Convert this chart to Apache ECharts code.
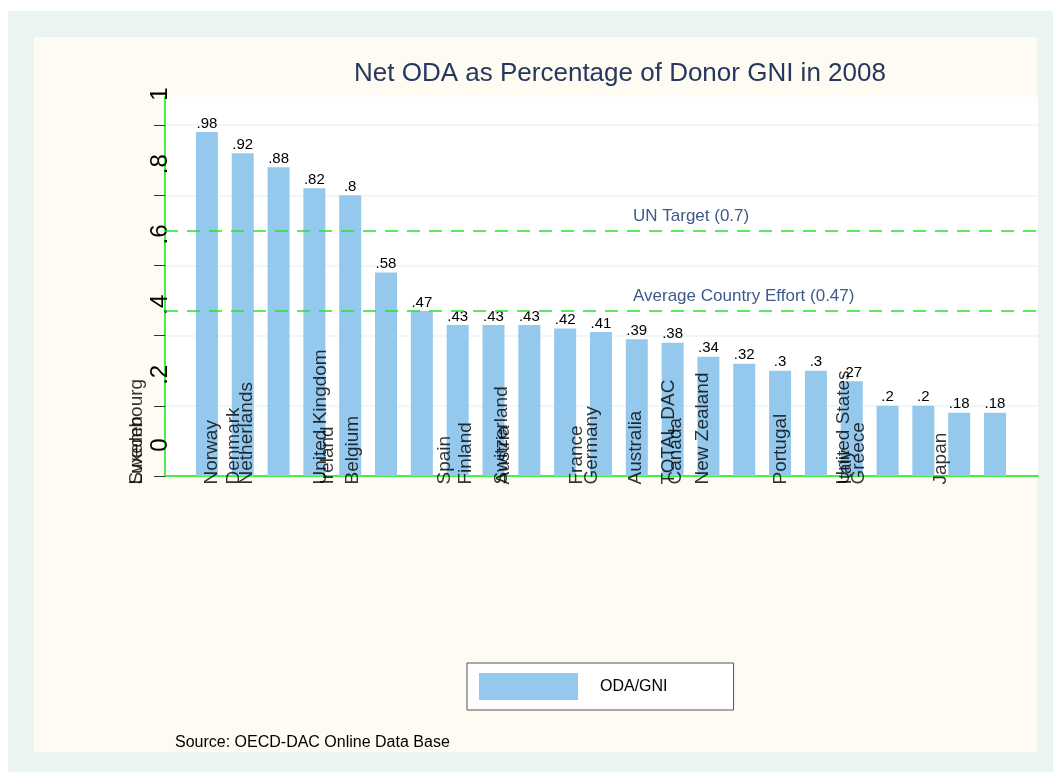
<!DOCTYPE html>
<html>
<head>
<meta charset="utf-8">
<script src="https://cdn.jsdelivr.net/npm/echarts@6/dist/echarts.min.js"></script>
<style>
  html, body { margin: 0; padding: 0; background: #fff; }
  #chart { width: 1053px; height: 772px; }
</style>
</head>
<body>
<div id="chart"></div>
<script>
// bar heights, left to right
const odaValues = [0.98, 0.92, 0.88, 0.82, 0.8, 0.58, 0.47, 0.43, 0.43, 0.43, 0.42, 0.41,
    0.39, 0.38, 0.34, 0.32, 0.3, 0.3, 0.27, 0.2, 0.2, 0.18, 0.18];
// country labels and where they sit (in bar-index units)
const labelNames = ["Sweden", "Luxembourg", "Norway", "Denmark", "Netherlands", "United Kingdom",
    "Ireland", "Belgium", "Spain", "Finland", "Switzerland", "Austria", "France", "Germany",
    "Australia", "TOTAL DAC", "Canada", "New Zealand", "Portugal", "United States", "Italy",
    "Greece", "Japan"];
const labelPos = [-1.95, -1.95, 0.14, 0.75, 1.12, 3.2, 3.4, 4.08, 6.65, 7.23, 8.24, 8.3,
    10.33, 10.75, 11.98, 12.9, 13.1, 13.85, 16.03, 17.8, 17.85, 18.2, 20.5];
const yTickValues = [0, 0.2, 0.4, 0.6, 0.8, 1];
const yTickLabels = ["0", ".2", ".4", ".6", ".8", "1"];
const refNames = ["UN Target (0.7)", "Average Country Effort (0.47)"];
const refValues = [0.7, 0.47];

const FONT = "Liberation Sans, Arial, sans-serif";
const GREEN = "#46ee46";
const chart = echarts.init(document.getElementById("chart"));

// one dashed reference line with its caption
const refLine = i => ({
    silent: true,
    symbol: "none",
    lineStyle: { color: "#22e622", type: [13, 9], width: 1.5 },
    label: {
        position: "insideStartTop",
        distance: [468, 6],
        fontSize: 17,
        color: "#40598a",
        formatter: refNames[i]
    },
    data: [{ yAxis: refValues[i] }]
});

const option = {
    backgroundColor: "#ffffff",
    textStyle: { fontFamily: FONT },
    animation: false,
    graphic: [
        { type: "rect", left: 8, top: 11, z: -10, silent: true,
          shape: { width: 1045, height: 761 }, style: { fill: "#eaf4f3" } },
        { type: "rect", left: 34, top: 37, z: -9, silent: true,
          shape: { width: 1003, height: 715 }, style: { fill: "#fefbf2" } },
        // plot region
        { type: "rect", left: 165, top: 97, z: -8, silent: true,
          shape: { width: 873, height: 379 }, style: { fill: "#ffffff" } }
    ],
    title: [{
        text: "Net ODA as Percentage of Donor GNI in 2008",
        left: 615,
        top: 56,
        textAlign: "center",
        textStyle: { fontFamily: FONT, fontSize: 26, fontWeight: "normal", color: "#26385f" }
    }, {
        text: "Source: OECD-DAC Online Data Base",
        left: 170,
        top: 730,
        textStyle: { fontFamily: FONT, fontSize: 16, fontWeight: "normal", color: "#000" }
    }],
    legend: {
        data: ["ODA/GNI"],
        left: 467,
        top: 663,
        icon: "rect",
        itemWidth: 99,
        itemHeight: 27,
        padding: [10, 66, 10, 12],
        backgroundColor: "#fff",
        borderColor: "#555",
        borderWidth: 1,
        borderRadius: 0,
        textStyle: { fontFamily: FONT, fontSize: 16, color: "#000", padding: [0, 0, 0, 17] }
    },
    grid: {
        left: 165,
        right: 15,
        top: 97,
        bottom: 296,
        show: false
    },
    xAxis: {
        type: "value",
        position: "bottom",
        min: -1.17,
        max: 23.2,
        axisLine: { show: true, onZero: false, lineStyle: { color: GREEN, width: 2 } },
        axisTick: { show: false },
        axisLabel: { show: false },
        splitLine: { show: false }
    },
    yAxis: {
        type: "value",
        position: "left",
        min: 0,
        max: 1.08,
        axisLine: { show: true, onZero: false, lineStyle: { color: GREEN, width: 2 } },
        axisTick: { show: true, length: 11, customValues: yTickValues, lineStyle: { color: "#333" } },
        axisLabel: {
            customValues: yTickValues,
            rotate: 90,
            fontSize: 24,
            color: "#000",
            margin: -7,
            padding: [0, 0, 0, 62],
            formatter: v => yTickLabels[yTickValues.indexOf(Math.round(v * 10) / 10)]
        },
        splitLine: { show: true, lineStyle: { color: "#edf3f3", width: 1.5 } }
    },
    series: [{
        type: "bar",
        name: "ODA/GNI",
        barWidth: 22,
        itemStyle: { color: "#94c9ed" },
        label: {
            show: true,
            position: "top",
            distance: 1,
            fontSize: 15,
            color: "#000",
            formatter: p => String(p.value[1]).replace(/^0/, "")
        },
        data: odaValues.map((v, i) => [i, v]),
        markLine: refLine(0)
    }, {
        type: "scatter",
        name: "labels",
        clip: false,
        symbolSize: 1,
        itemStyle: { color: "rgba(0,0,0,0)" },
        label: {
            show: true,
            position: [0, 9],
            rotate: 90,
            align: "left",
            verticalAlign: "middle",
            fontSize: 19,
            color: "#000",
            formatter: p => p.name
        },
        data: labelNames.map((n, i) => ({ name: n, value: [labelPos[i], 0] })),
        markLine: refLine(1)
    }]
};

chart.setOption(option);
</script>
</body>
</html>
